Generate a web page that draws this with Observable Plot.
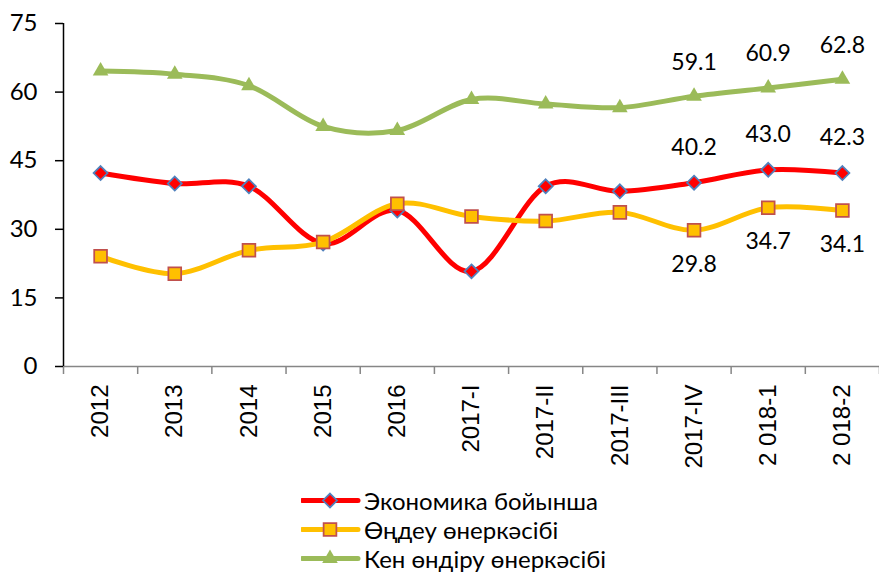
<!DOCTYPE html>
<html>
<head>
<meta charset="utf-8">
<script src="https://cdn.jsdelivr.net/npm/d3@7"></script>
<script src="https://cdn.jsdelivr.net/npm/@observablehq/plot@0.6"></script>
<style>
  html, body { margin: 0; padding: 0; background: #fff; }
  #wrap { position: relative; width: 879px; height: 572px; overflow: hidden; }
  #legend { position: absolute; left: 301px; top: 486px; font-family: Lato, "Open Sans", sans-serif; font-size: 24px; color: #000; }
  .row { display: flex; align-items: center; height: 29px; }
  .row svg { display: block; margin-right: 3px; }
  .row span { line-height: 24px; }
</style>
</head>
<body>
<div id="wrap"><div id="chart"></div><div id="legend"></div></div>
<script>
const categories = ["2012", "2013", "2014", "2015", "2016", "2017-I", "2017-II", "2017-III", "2017-IV", "2 018-1", "2 018-2"];
const seriesNames = ["Экономика бойынша", "Өңдеу өнеркәсібі", "Кен өндіру өнеркәсібі"];
const economy = [42.3, 40.0, 39.4, 26.9, 34.1, 20.8, 39.4, 38.3, 40.2, 43.0, 42.3];
const manufacturing = [24.1, 20.3, 25.4, 27.2, 35.6, 32.8, 31.8, 33.7, 29.8, 34.7, 34.1];
const mining = [64.6, 63.9, 61.4, 52.5, 51.6, 58.4, 57.4, 56.6, 59.1, 60.9, 62.8];
const labeledIdx = [8, 9, 10];
const yTicks = [0, 15, 30, 45, 60, 75];

const colors = ["#FF0000", "#FFC000", "#9BBB59"];
const markerStrokes = ["#4F81BD", "#C0504D", "none"];
const symbols = ["diamond2", "square", "triangle"];
const radii = [6.3, 7.2, 5.8];

const rows = vals => vals.map((v, i) => ({i, v}));
const data = [economy, manufacturing, mining].map(rows);

const seriesMarks = data.flatMap((d, k) => [
  Plot.line(d, {x: "i", y: "v", stroke: colors[k], strokeWidth: 5, curve: "cardinal"}),
  Plot.dot(d, {x: "i", y: "v", symbol: symbols[k], r: radii[k], fill: colors[k],
    stroke: markerStrokes[k], strokeWidth: 1.75})
]);

const labelOffsets = [-35, 34, -34];
const labelMarks = data.map((d, k) => Plot.text(d.filter(p => labeledIdx.includes(p.i)), {
  x: "i", y: "v", text: p => p.v.toFixed(1), dy: labelOffsets[k],
  fontSize: 23, fontFamily: "Lato", fill: "#000"
}));

const chart = Plot.plot({
  width: 879, height: 480,
  marginTop: 23, marginBottom: 114, marginLeft: 63, marginRight: 0,
  x: {type: "linear", domain: [-0.5, 10.5]},
  y: {domain: [0, 75]},
  style: {fontFamily: "Lato", fontSize: "22px", color: "#000", background: "#fff"},
  marks: [
    Plot.ruleY([0], {stroke: "#868686", strokeWidth: 1.5}),
    Plot.axisX({ticks: d3.range(-0.5, 11, 1), tickFormat: () => "", tickSize: 8, stroke: "#868686", strokeWidth: 1.5, label: null}),
    Plot.axisX({ticks: d3.range(0, 11), tickFormat: i => categories[i], tickSize: 0, tickPadding: 18,
      tickRotate: -90, label: null, fontFamily: "Liberation Sans", fontSize: 24}),
    Plot.ruleX([-0.5], {stroke: "#000", strokeWidth: 1.5}),
    Plot.axisY({ticks: yTicks, tickSize: 8, tickPadding: 18, stroke: "#000", strokeWidth: 1.5, label: null, fontSize: 24}),
    ...seriesMarks,
    ...labelMarks
  ]
});
document.getElementById("chart").appendChild(chart);

// legend
const symMap = {diamond2: d3.symbolDiamond2, square: d3.symbolSquare, triangle: d3.symbolTriangle};
const legend = d3.select("#legend");
seriesNames.forEach((name, k) => {
  const row = legend.append("div").attr("class", "row");
  const svg = row.append("svg").attr("width", 60).attr("height", 29);
  svg.append("line").attr("x1", 1).attr("x2", 57).attr("y1", 14.5).attr("y2", 14.5)
    .attr("stroke", colors[k]).attr("stroke-width", 5).attr("stroke-linecap", "round");
  svg.append("path").attr("transform", "translate(29,14.5)")
    .attr("d", d3.symbol(symMap[symbols[k]], Math.PI * radii[k] * radii[k])())
    .attr("fill", colors[k]).attr("stroke", markerStrokes[k]).attr("stroke-width", 1.75);
  row.append("span").text(name);
});
</script>
</body>
</html>
